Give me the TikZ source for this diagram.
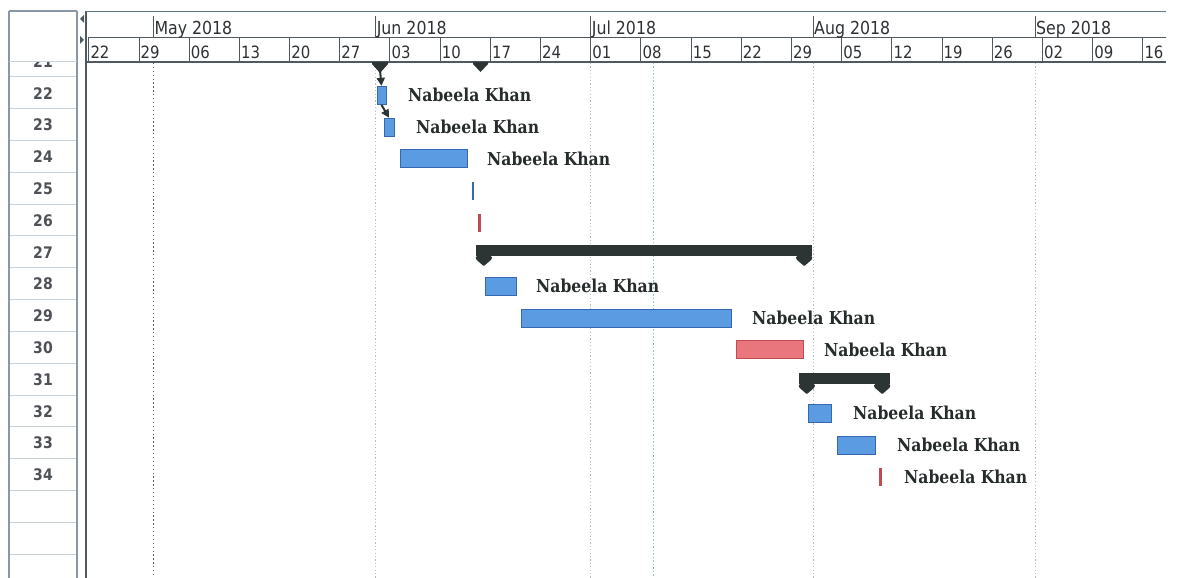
\documentclass[tikz,border=0pt]{standalone}
\usepackage{fontspec}
\usepackage{graphicx}
\usetikzlibrary{arrows.meta,fit}
\newfontfamily\hdrfont{DejaVu Sans}[FakeStretch=0.88]
\newfontfamily\lblfont{DejaVu Serif}
\definecolor{hdrgray}{HTML}{4E5A60}
\definecolor{topline}{HTML}{5E7A80}
\definecolor{colline}{HTML}{8797A8}
\definecolor{rowline}{HTML}{C9D1DA}
\definecolor{gridgray}{HTML}{B4BCC4}
\definecolor{gridteal}{HTML}{86CACB}
\definecolor{dotdark}{HTML}{555B60}
\definecolor{barblue}{HTML}{5A9BE2}
\definecolor{barblueedge}{HTML}{3469B0}
\definecolor{barred}{HTML}{E9767D}
\definecolor{barrededge}{HTML}{C24A52}
\definecolor{sumdark}{HTML}{2C3434}
\definecolor{lblcol}{HTML}{262B2C}
\definecolor{rowtxt}{HTML}{4E5256}
\definecolor{hdrtxt}{HTML}{2E3236}
\newcommand\nkText{\resizebox{123bp}{13.5bp}{\lblfont\bfseries Nabeela Khan}}
\begin{document}
\begin{tikzpicture}[x=1bp,y=-1bp,
  hdrline/.style={draw=hdrgray,line width=1bp},
  colrule/.style={draw=colline,line width=1.3bp},
  rowrule/.style={draw=rowline,line width=1bp},
  gridline/.style={draw=gridgray,line width=1bp,dash pattern=on 1.2bp off 2.2bp},
  tealline/.style={draw=gridteal,line width=1bp,dash pattern=on 1.5bp off 2bp},
  startline/.style={draw=dotdark,line width=1.3bp,dash pattern=on 1.3bp off 2.6bp},
  bluebar/.style={draw=barblueedge,fill=barblue,line width=1bp,inner sep=0pt},
  redbar/.style={draw=barrededge,fill=barred,line width=1bp,inner sep=0pt},
  bluetick/.style={fill=barblueedge,inner sep=0pt},
  redtick/.style={fill=barrededge,inner sep=0pt},
  summbar/.style={fill=sumdark,inner sep=0pt},
  link/.style={draw=sumdark,line width=2bp,-{Triangle[length=8bp,width=8bp]}},
  nk/.style={anchor=base west,inner sep=0pt,text=lblcol},
  weeklbl/.style={anchor=base west,inner sep=0pt,text=hdrtxt,font=\hdrfont\fontsize{17}{17}\selectfont},
  monthlbl/.style={anchor=base west,inner sep=0pt,text=hdrtxt,font=\hdrfont\fontsize{18}{18}\selectfont},
  rowlbl/.style={inner sep=0pt,text=rowtxt,font=\hdrfont\bfseries\fontsize{16}{16}\selectfont}]
\useasboundingbox (0,0) rectangle (1179,578);
\fill[white] (0,0) rectangle (1179,578);

% ---- grid lines in the chart area
\draw[startline] (153.3,63) -- (153.3,578);
\foreach \gx in {375.6,590.7,813,1035} {\draw[gridline] (\gx,63) -- (\gx,578);}
\draw[tealline] (653,63) -- (653,578);

% ---- left column
\draw[colrule] (9,11) -- (9,578);
\draw[colrule] (77,11) -- (77,578);
\draw[colrule] (9,11) -- (77,11);
\draw[rowrule] (9,62) -- (77,62);
\foreach \k in {0,...,15} {\draw[rowrule] (10,77+31.8*\k) -- (76,77+31.8*\k);}
\begin{scope}
  \clip (10,62.6) rectangle (76,578);
  \foreach \r [count=\i from 0] in {21,...,34} {
    \node[rowlbl] (r\r) at (43,61.5+31.8*\i) {\r};
  }
\end{scope}

% ---- splitter
\draw[draw=hdrgray,line width=1.6bp] (86,11) -- (86,578);
\fill[hdrgray] (84,15) -- (80,19) -- (84,23) -- cycle;
\fill[hdrgray] (80,36) -- (84,40) -- (80,44) -- cycle;

% ---- timescale header
\begin{scope}
  \clip (86,0) rectangle (1166,70);
  \draw[draw=topline,line width=1.4bp] (86,11.5) -- (1166,11.5);
  \draw[hdrline] (88,38) -- (1166,38);
  \draw[draw=hdrgray,line width=1.4bp] (86,62) -- (1166,62);
  \foreach \lab [count=\i from 0] in {22,29,06,13,20,27,03,10,17,24,01,08,15,22,29,05,12,19,26,02,09,16} {
    \pgfmathsetmacro\xx{139+7.17*(\i*7-7)}
    \draw[hdrline] (\xx,38) -- (\xx,62);
    \node[weeklbl] (w\i) at (\xx+1.5,59) {\lab};
  }
  \foreach \mx/\mlab [count=\j] in {153.3/May 2018,375.6/Jun 2018,590.7/Jul 2018,813/Aug 2018,1035/Sep 2018} {
    \draw[hdrline] (\mx,16) -- (\mx,38);
    \node[monthlbl] (m\j) at (\mx+1,35) {\mlab};
  }
\end{scope}

% ---- row 21 summary caps (bar hidden under header)
\fill[sumdark] (372,62) -- (388,62) -- (388,64) -- (380,73) -- (372,64) -- cycle;
\fill[sumdark] (473,62) -- (488,62) -- (488,64) -- (480.5,72) -- (473,64) -- cycle;
\coordinate (s21tip) at (380,70);

% ---- task bars
\node[bluebar,fit={(377,86.4)(386,104.4)}] (b22) {};
\node[bluebar,fit={(384,118.2)(394,136.2)}] (b23) {};
\node[bluebar,fit={(400,150)(467,168)}] (b24) {};
\node[bluetick,fit={(471.8,181.8)(474.2,199.8)}] (b25) {};
\node[redtick,fit={(478.3,213.6)(480.7,231.6)}] (b26) {};
\node[bluebar,fit={(485,277.2)(516,295.2)}] (b28) {};
\node[bluebar,fit={(521,309)(731,327)}] (b29) {};
\node[redbar,fit={(736,340.8)(803,358.8)}] (b30) {};
\node[bluebar,fit={(808,404.4)(831,422.4)}] (b32) {};
\node[bluebar,fit={(837,436.2)(875,454.2)}] (b33) {};
\node[redtick,fit={(879.3,468)(881.7,486)}] (b34) {};

% ---- summary bars
\node[summbar,fit={(476,245)(812,256)}] (s27) {};
\fill[sumdark,rounded corners=1bp] (s27.south west) -- ++(0,3) -- ++(8,7) -- ++(8,-7) -- ++(0,-3) -- cycle;
\fill[sumdark,rounded corners=1bp] (s27.south east) -- ++(0,3) -- ++(-8,7) -- ++(-8,-7) -- ++(0,-3) -- cycle;
\node[summbar,fit={(799,373)(890,384)}] (s31) {};
\fill[sumdark,rounded corners=1bp] (s31.south west) -- ++(0,3) -- ++(8,7) -- ++(8,-7) -- ++(0,-3) -- cycle;
\fill[sumdark,rounded corners=1bp] (s31.south east) -- ++(0,3) -- ++(-8,7) -- ++(-8,-7) -- ++(0,-3) -- cycle;

% ---- links
\draw[link] (s21tip) -- (b22.north);
\draw[link] (b22.south) -- (b23.north);

% ---- resource labels
\node[nk] (l22) at (408,101.9) {\nkText};
\node[nk] (l23) at (416,133.7) {\nkText};
\node[nk] (l24) at (487,165.5) {\nkText};
\node[nk] (l28) at (536,292.7) {\nkText};
\node[nk] (l29) at (752,324.5) {\nkText};
\node[nk] (l30) at (824,356.3) {\nkText};
\node[nk] (l32) at (853,419.9) {\nkText};
\node[nk] (l33) at (897,451.7) {\nkText};
\node[nk] (l34) at (904,483.5) {\nkText};
\end{tikzpicture}
\end{document}
